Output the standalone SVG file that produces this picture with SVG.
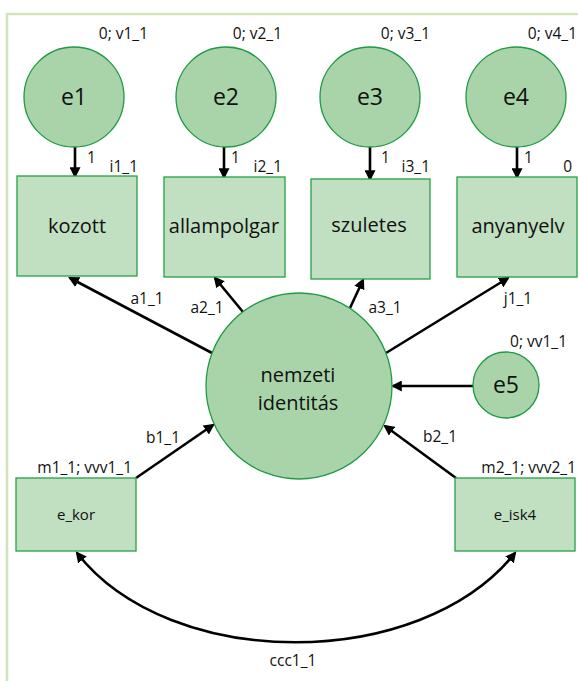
<svg xmlns="http://www.w3.org/2000/svg" width="578" height="681" viewBox="0 0 578 681">
<defs>
<style>
text{font-family:"Open Sans","Noto Sans","DejaVu Sans",sans-serif;fill:#111}
.lat{fill:#a9d4a9;stroke:#1f9a45;stroke-width:1.3}
.obs{fill:#c1dfc1;stroke:#26a044;stroke-width:1.3}
.big{font-size:20px;text-anchor:middle}
.err{font-size:23px;text-anchor:middle}
.lab{font-size:15.5px}
.r{text-anchor:end}
.m{text-anchor:middle}
.con line,.con path{stroke:#000;stroke-width:2.6;fill:none;marker-end:url(#ah)}
</style>
<marker id="ah" viewBox="0 0 10 10" refX="8" refY="5" markerWidth="11" markerHeight="11" markerUnits="userSpaceOnUse" orient="auto-start-reverse">
<path d="M0,0 L10,5 L0,10 z" fill="#000"/>
</marker>
</defs>
<rect width="578" height="681" fill="#fff"/>
<path d="M7,681 V14 H578" fill="none" stroke="#d3e3bb" stroke-width="2.6"/>

<g class="con" id="connectors">
<line x1="75" y1="147" x2="75" y2="176"/>
<line x1="224" y1="147" x2="224" y2="177"/>
<line x1="370" y1="147" x2="370" y2="179"/>
<line x1="517" y1="147" x2="517" y2="177"/>
<line x1="212" y1="353" x2="70" y2="278"/>
<line x1="243" y1="312" x2="215" y2="278"/>
<line x1="350" y1="308" x2="363" y2="280"/>
<line x1="386" y1="353" x2="508" y2="278"/>
<line x1="473" y1="386" x2="393" y2="386"/>
<line x1="136" y1="478" x2="213" y2="425"/>
<line x1="456" y1="478" x2="385" y2="426"/>
<path d="M77,553 C170,672 420,672 515,553" style="marker-start:url(#ah)"/>
<text class="lab" x="87" y="163">1</text>
<text class="lab" x="231" y="163">1</text>
<text class="lab" x="381" y="163">1</text>
<text class="lab" x="524" y="163">1</text>
<text class="lab m" x="147" y="304">a1_1</text>
<text class="lab m" x="207" y="313">a2_1</text>
<text class="lab m" x="385" y="313">a3_1</text>
<text class="lab m" x="518" y="304">j1_1</text>
<text class="lab m" x="163" y="443">b1_1</text>
<text class="lab m" x="440" y="442">b2_1</text>
<text class="lab m" x="293" y="666">ccc1_1</text>
</g>

<g id="e1"><circle class="lat" cx="74" cy="97" r="50"/><text class="err" x="74" y="105">e1</text><text class="lab r" x="148" y="39">0; v1_1</text></g>
<g id="e2"><circle class="lat" cx="226" cy="97" r="50"/><text class="err" x="226" y="105">e2</text><text class="lab r" x="282" y="39">0; v2_1</text></g>
<g id="e3"><circle class="lat" cx="370" cy="97" r="50"/><text class="err" x="370" y="105">e3</text><text class="lab r" x="430" y="39">0; v3_1</text></g>
<g id="e4"><circle class="lat" cx="516" cy="97" r="50"/><text class="err" x="516" y="105">e4</text><text class="lab r" x="577" y="39">0; v4_1</text></g>

<g id="kozott"><rect class="obs" x="17" y="176" width="120" height="100"/><text class="big" x="77" y="233">kozott</text><text class="lab r" x="138" y="172">i1_1</text></g>
<g id="allampolgar"><rect class="obs" x="164" y="177" width="121" height="100"/><text class="big" x="224" y="233">allampolgar</text><text class="lab r" x="282" y="172">i2_1</text></g>
<g id="szuletes"><rect class="obs" x="311" y="179" width="119" height="100"/><text class="big" x="369" y="232">szuletes</text><text class="lab r" x="430" y="172">i3_1</text></g>
<g id="anyanyelv"><rect class="obs" x="457" y="177" width="120" height="100"/><text class="big" x="518" y="233">anyanyelv</text><text class="lab r" x="572" y="172">0</text></g>

<g id="nemzeti"><circle class="lat" cx="299" cy="386" r="93"/><text class="big" x="298" y="382">nemzeti</text><text class="big" x="298" y="410">identitás</text></g>

<g id="e5"><circle class="lat" cx="506" cy="385" r="33"/><text class="err" x="506" y="393">e5</text><text class="lab r" x="567" y="347">0; vv1_1</text></g>

<g id="e_kor"><rect class="obs" x="16" y="478" width="120" height="73"/><text class="m" style="font-size:15px" x="76" y="520">e_kor</text><text class="lab r" x="132" y="473">m1_1; vvv1_1</text></g>
<g id="e_isk4"><rect class="obs" x="455" y="478" width="120" height="73"/><text class="m" style="font-size:15px" x="515" y="520">e_isk4</text><text class="lab r" x="576" y="473">m2_1; vvv2_1</text></g>
</svg>
